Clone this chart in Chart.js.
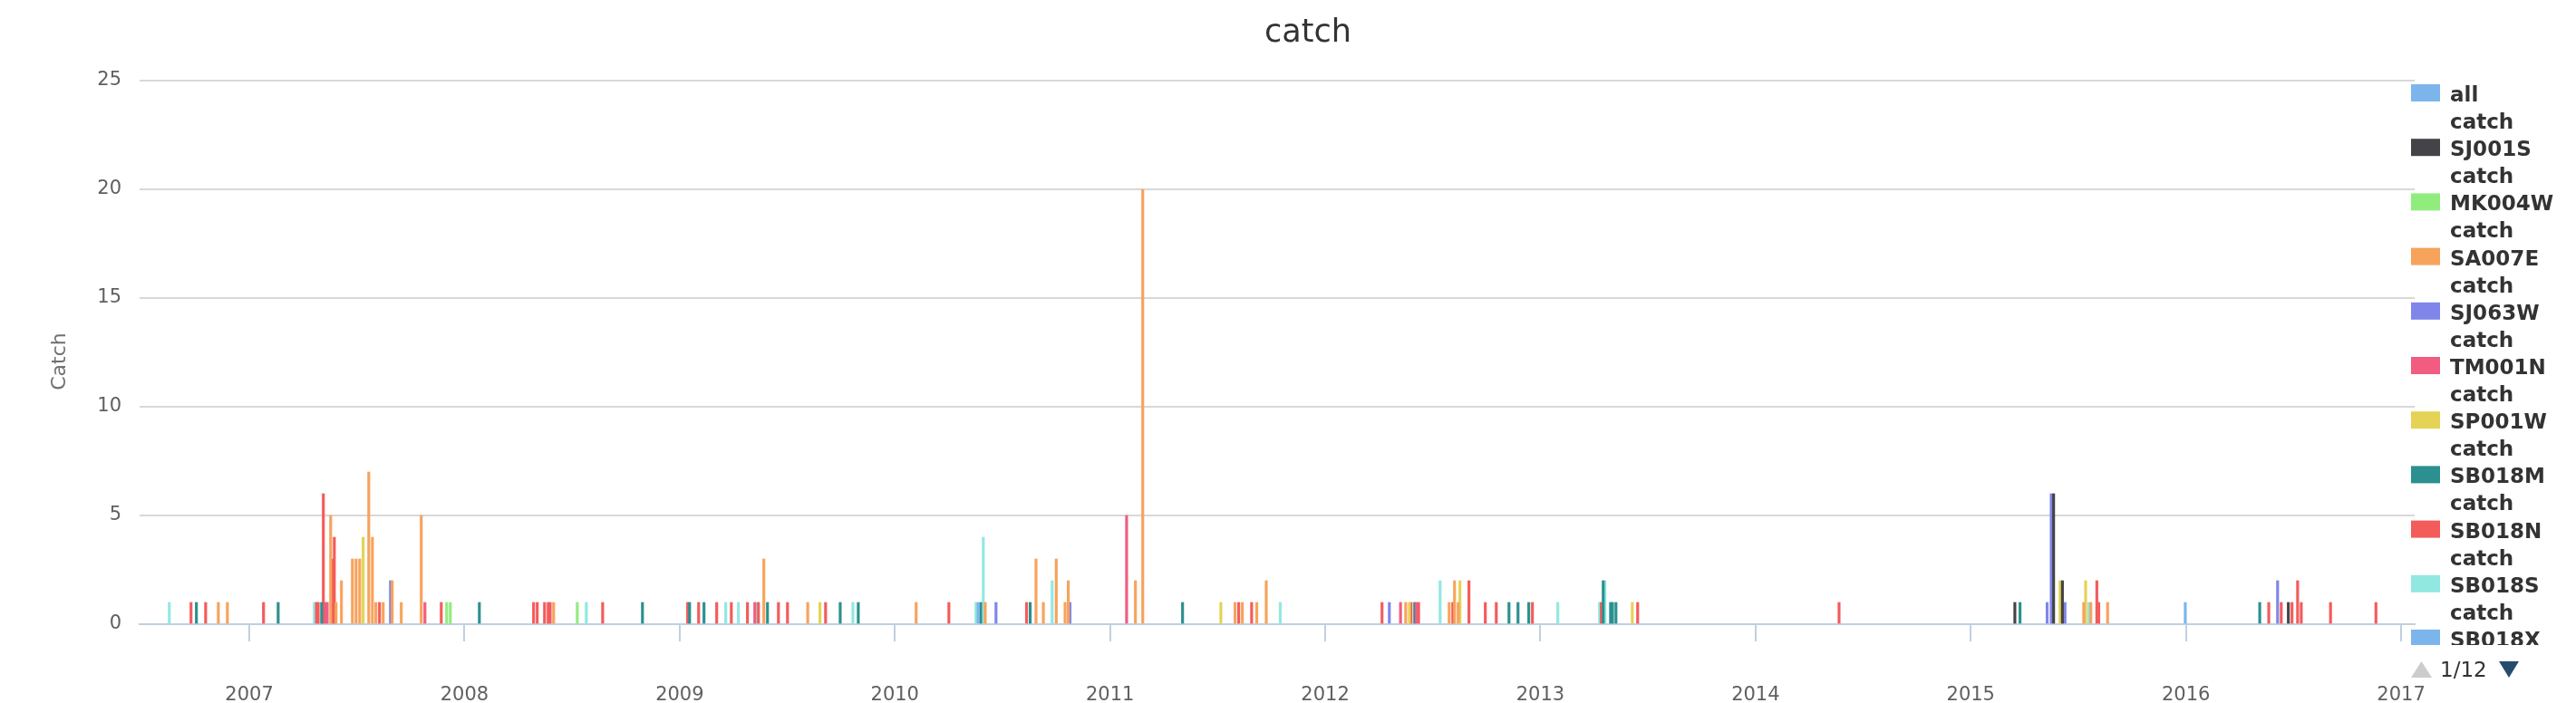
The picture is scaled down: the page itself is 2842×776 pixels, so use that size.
<!DOCTYPE html>
<html>
<head>
<meta charset="utf-8">
<title>catch</title>
<script src="https://cdn.jsdelivr.net/npm/chart.js@4.4.1/dist/chart.umd.min.js"></script>
<style>
    html, body { margin: 0; padding: 0; background: #ffffff; }
    #wrap { width: 2842px; height: 776px; position: relative; }
</style>
</head>
<body>
<div id="wrap"><canvas id="catchChart"></canvas></div>
<script>
// x = date as decimal year, y = catch
const allCatch = [[2010.387, 1]];
const sj001s = [[2015.205, 1], [2015.385, 6], [2015.426, 2], [2016.476, 1]];
const mk004w = [[2007.917, 1], [2007.934, 1], [2008.524, 1]];
const sa007e = [
    [2006.856, 1], [2006.898, 1], [2007.378, 5], [2007.403, 1], [2007.428, 2], [2007.479, 3],
    [2007.496, 3], [2007.513, 3], [2007.555, 7], [2007.572, 4], [2007.588, 1], [2007.622, 1],
    [2007.664, 2], [2007.706, 1], [2007.799, 5], [2008.414, 1], [2009.391, 3], [2009.595, 1],
    [2010.099, 1], [2010.420, 1], [2010.656, 3], [2010.690, 1], [2010.750, 3], [2010.791, 1],
    [2010.806, 2], [2011.118, 2], [2011.152, 20], [2011.581, 1], [2011.615, 1], [2011.682, 1],
    [2011.726, 2], [2012.374, 1], [2012.576, 1], [2012.601, 2], [2012.618, 1], [2015.525, 1],
    [2015.558, 1], [2015.636, 1]
];
const sj063w = [[2007.656, 2], [2010.470, 1], [2010.814, 1], [2012.298, 1], [2015.355, 1], [2015.374, 6], [2015.438, 1], [2016.426, 2]];
const tm001n = [[2007.354, 1], [2007.362, 1], [2007.816, 1], [2009.349, 1], [2011.077, 5], [2012.350, 1], [2012.424, 1]];
const sp001w = [[2007.529, 4], [2009.652, 1], [2011.515, 1], [2012.391, 1], [2012.626, 2], [2013.427, 1], [2015.415, 2], [2015.534, 2]];
const sb018m = [
    [2006.754, 1], [2007.134, 1], [2007.336, 1], [2008.069, 1], [2008.827, 1], [2009.046, 1],
    [2009.113, 1], [2009.408, 1], [2009.746, 1], [2009.830, 1], [2010.399, 1], [2010.629, 1],
    [2011.337, 1], [2012.416, 1], [2012.854, 1], [2012.896, 1], [2012.946, 1], [2013.292, 2],
    [2013.326, 1], [2013.335, 1], [2013.351, 1], [2015.229, 1], [2016.343, 1]
];
const sb018n = [
    [2006.729, 1], [2006.797, 1], [2007.066, 1], [2007.312, 1], [2007.320, 1], [2007.344, 6],
    [2007.386, 3], [2007.395, 4], [2007.605, 1], [2007.892, 1], [2008.321, 1], [2008.338, 1],
    [2008.372, 1], [2008.389, 1], [2008.398, 1], [2008.642, 1], [2009.037, 1], [2009.088, 1],
    [2009.172, 1], [2009.240, 1], [2009.315, 1], [2009.366, 1], [2009.459, 1], [2009.501, 1],
    [2009.678, 1], [2010.251, 1], [2010.612, 1], [2011.598, 1], [2011.658, 1], [2012.264, 1],
    [2012.399, 1], [2012.434, 1], [2012.593, 1], [2012.668, 2], [2012.744, 1], [2012.795, 1],
    [2012.963, 1], [2013.283, 1], [2013.452, 1], [2014.388, 1], [2015.586, 2], [2015.595, 1],
    [2016.385, 1], [2016.443, 1], [2016.493, 1], [2016.519, 2], [2016.536, 1], [2016.672, 1],
    [2016.883, 1]
];
const sb018s = [
    [2006.628, 1], [2007.302, 1], [2007.385, 1], [2008.566, 1], [2009.214, 1], [2009.273, 1],
    [2009.358, 1], [2009.805, 1], [2010.377, 1], [2010.411, 4], [2010.731, 2], [2011.791, 1],
    [2012.534, 2], [2013.081, 1], [2013.275, 1], [2013.300, 2], [2015.549, 1]
];
const sb018x = [[2015.997, 1]];

const seriesNames = ['all', 'SJ001S', 'MK004W', 'SA007E', 'SJ063W', 'TM001N', 'SP001W', 'SB018M', 'SB018N', 'SB018S', 'SB018X'];
const seriesData = [allCatch, sj001s, mk004w, sa007e, sj063w, tm001n, sp001w, sb018m, sb018n, sb018s, sb018x];
const seriesColors = ['#7cb5ec', '#434348', '#90ed7d', '#f7a35c', '#8085e9', '#f15c80', '#e4d354', '#2b908f', '#f45b5b', '#91e8e1', '#7cb5ec'];

const yearTicks = [2007, 2008, 2009, 2010, 2011, 2012, 2013, 2014, 2015, 2016, 2017];
const catchTicks = [0, 5, 10, 15, 20, 25];
const legendPage = 1;
const legendPages = 12;

// title, y axis title and the paged legend on the right
const extras = {
    id: 'extras',
    afterDraw(chart) {
        const ctx = chart.ctx;
        ctx.save();
        ctx.fillStyle = '#333333';
        ctx.font = '35px "DejaVu Sans"';
        ctx.textAlign = 'center';
        ctx.textBaseline = 'alphabetic';
        ctx.fillText('catch', 1443, 46);

        ctx.save();
        ctx.translate(66, 399);
        ctx.rotate(-Math.PI / 2);
        ctx.fillStyle = '#707070';
        ctx.font = '22px "DejaVu Sans"';
        ctx.textBaseline = 'middle';
        ctx.fillText('Catch', 0, 0);
        ctx.restore();

        // legend page 1, clipped like the original box
        ctx.save();
        ctx.beginPath();
        ctx.rect(2650, 80, 192, 712 - 80);
        ctx.clip();
        ctx.textAlign = 'left';
        ctx.font = 'bold 23px "DejaVu Sans"';
        chart.data.datasets.forEach((ds, i) => {
            const base = 112 + i * 60.2;
            ctx.fillStyle = ds.backgroundColor;
            ctx.fillRect(2660, base - 19, 32, 19);
            ctx.fillStyle = '#333333';
            ctx.fillText(seriesNames[i], 2703, base);
            ctx.fillText('catch', 2703, base + 30);
        });
        ctx.restore();

        ctx.fillStyle = '#cccccc';
        ctx.beginPath();
        ctx.moveTo(2660, 748); ctx.lineTo(2683, 748); ctx.lineTo(2671.5, 730);
        ctx.closePath(); ctx.fill();
        ctx.fillStyle = '#274b6d';
        ctx.beginPath();
        ctx.moveTo(2757, 730); ctx.lineTo(2779, 730); ctx.lineTo(2768, 748);
        ctx.closePath(); ctx.fill();
        ctx.fillStyle = '#333333';
        ctx.font = '23px "DejaVu Sans"';
        ctx.textAlign = 'left';
        ctx.textBaseline = 'alphabetic';
        ctx.fillText(legendPage + '/' + legendPages, 2692, 747);
        ctx.restore();
    }
};

const ctx = document.getElementById('catchChart');
new Chart(ctx, {
    type: 'bar',
    data: {
        datasets: seriesData.map((s, i) => ({
            label: seriesNames[i] + ' catch',
            data: s.map(p => ({ x: p[0], y: p[1] })),
            backgroundColor: seriesColors[i],
            borderWidth: 0,
            barThickness: 2.5,
            grouped: false
        }))
    },
    options: {
        responsive: true,
        maintainAspectRatio: false,
        animation: false,
        layout: { padding: { left: 0, right: 178, top: 89, bottom: 0 } },
        plugins: {
            legend: { display: false },
            title: { display: false },
            tooltip: { enabled: false }
        },
        scales: {
            x: {
                type: 'linear',
                min: 2006.49,
                max: 2017.063,
                offset: false,
                afterBuildTicks: scale => { scale.ticks = yearTicks.map(v => ({ value: v })); },
                afterFit: scale => { scale.height = 87; },
                ticks: {
                    autoSkip: false,
                    maxRotation: 0,
                    padding: 47,
                    color: '#606060',
                    font: { family: 'DejaVu Sans', size: 21 },
                    callback: v => String(v)
                },
                grid: {
                    offset: false,
                    drawOnChartArea: false,
                    drawTicks: true,
                    tickLength: 19,
                    color: '#c0d0e0',
                    lineWidth: 2
                },
                border: { display: true, color: '#c0d0e0', width: 2 }
            },
            y: {
                min: 0,
                max: 25,
                afterBuildTicks: scale => { scale.ticks = catchTicks.map(v => ({ value: v })); },
                afterFit: scale => { scale.width = 154; },
                ticks: {
                    padding: 20,
                    color: '#606060',
                    font: { family: 'DejaVu Sans', size: 21 }
                },
                grid: { color: '#d8d8d8', lineWidth: 2, drawTicks: false },
                border: { display: false }
            }
        }
    },
    plugins: [extras]
});
</script>
</body>
</html>
